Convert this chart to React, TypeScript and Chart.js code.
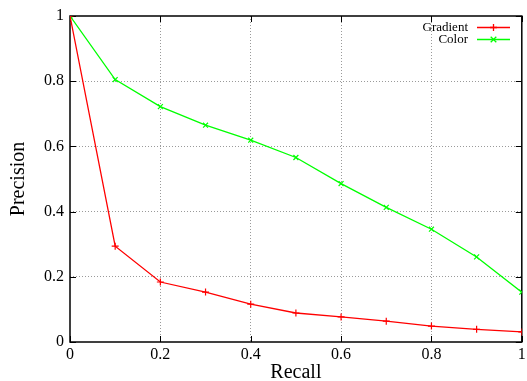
import React, { useEffect, useRef } from 'react';
import { Chart, registerables } from 'chart.js';

Chart.register(...registerables);

const recall = [0, 0.1, 0.2, 0.3, 0.4, 0.5, 0.6, 0.7, 0.8, 0.9, 1];
const gradientPrecision = [1, 0.294, 0.184, 0.153, 0.116, 0.089, 0.077, 0.064, 0.049, 0.039, 0.031];
const colorPrecision = [1, 0.805, 0.722, 0.665, 0.619, 0.566, 0.486, 0.413, 0.346, 0.261, 0.153];
const xTicks = [0, 0.2, 0.4, 0.6, 0.8, 1];
const yTicks = [0, 0.2, 0.4, 0.6, 0.8, 1];
const seriesNames = ['Gradient', 'Color'];
const seriesColors = ['#ff0000', '#00ff00'];
const seriesMarkers = ['cross', 'crossRot'];
const xTitle = 'Recall';
const yTitle = 'Precision';

const SERIF = '"Liberation Serif", "DejaVu Serif", serif';

const fmt = (v: number) => String(Math.round(v * 10) / 10);

const boxPlugin = {
  id: 'gnuBox',
  beforeDatasetsDraw(chart: any) {
    const { ctx, chartArea: a, scales } = chart;
    ctx.save();
    ctx.strokeStyle = '#000';
    ctx.lineWidth = 1;
    const tl = 6;
    ctx.beginPath();
    for (const v of xTicks) {
      const x = Math.round(scales.x.getPixelForValue(v)) + 0.5;
      ctx.moveTo(x, a.bottom);
      ctx.lineTo(x, a.bottom - tl);
      ctx.moveTo(x, a.top);
      ctx.lineTo(x, a.top + tl);
    }
    for (const v of yTicks) {
      const y = Math.round(scales.y.getPixelForValue(v)) + 0.5;
      ctx.moveTo(a.left, y);
      ctx.lineTo(a.left + tl, y);
      ctx.moveTo(a.right, y);
      ctx.lineTo(a.right - tl, y);
    }
    ctx.stroke();
    ctx.lineWidth = 1.5;
    ctx.strokeRect(a.left, a.top, a.right - a.left, a.bottom - a.top);
    ctx.restore();
  },
};

const legendPlugin = {
  id: 'gnuLegend',
  afterDraw(chart: any) {
    const { ctx } = chart;
    ctx.save();
    ctx.font = `13px ${SERIF}`;
    ctx.textAlign = 'right';
    ctx.textBaseline = 'middle';
    const textRight = 468;
    const lx0 = 477;
    const lx1 = 510;
    const rowY = [27.5, 39.5];
    seriesNames.forEach((name, i) => {
      const y = rowY[i];
      ctx.fillStyle = '#000';
      ctx.fillText(name, textRight, y);
      ctx.strokeStyle = seriesColors[i];
      ctx.lineWidth = 1.3;
      ctx.beginPath();
      ctx.moveTo(lx0, y);
      ctx.lineTo(lx1, y);
      ctx.stroke();
      const cx = (lx0 + lx1) / 2;
      const r = 3.5;
      ctx.beginPath();
      if (seriesMarkers[i] === 'cross') {
        ctx.moveTo(cx, y - r);
        ctx.lineTo(cx, y + r);
        ctx.moveTo(cx - r, y);
        ctx.lineTo(cx + r, y);
      } else {
        const d = r * 0.8;
        ctx.moveTo(cx - d, y - d);
        ctx.lineTo(cx + d, y + d);
        ctx.moveTo(cx - d, y + d);
        ctx.lineTo(cx + d, y - d);
      }
      ctx.stroke();
    });
    ctx.restore();
  },
};

export default function App() {
  const canvasRef = useRef<HTMLCanvasElement | null>(null);

  useEffect(() => {
    const canvas = canvasRef.current;
    if (!canvas) return;
    const series = [gradientPrecision, colorPrecision];
    const chart = new Chart(canvas, {
      type: 'line',
      data: {
        datasets: series.map((vals, i) => ({
          label: seriesNames[i],
          data: recall.map((r, j) => ({ x: r, y: vals[j] })),
          borderColor: seriesColors[i],
          backgroundColor: seriesColors[i],
          borderWidth: 1.3,
          pointStyle: seriesMarkers[i] as any,
          pointRadius: 3.5,
          pointBorderWidth: 1.2,
          pointBorderColor: seriesColors[i],
          tension: 0,
          fill: false,
        })),
      },
      options: {
        animation: false,
        responsive: true,
        maintainAspectRatio: false,
        layout: { padding: { top: 16, right: 2, left: 0, bottom: 0 } },
        plugins: {
          legend: { display: false },
          tooltip: { enabled: false },
        },
        scales: {
          x: {
            type: 'linear',
            min: 0,
            max: 1,
            afterBuildTicks: (s: any) => {
              s.ticks = xTicks.map((v) => ({ value: v }));
            },
            afterFit: (s: any) => {
              s.height = 39;
              s.paddingLeft = 0;
              s.paddingRight = 0;
            },
            ticks: {
              color: '#000',
              font: { family: SERIF, size: 16 },
              padding: 3,
              maxRotation: 0,
              autoSkip: false,
              callback: (v: any) => fmt(Number(v)),
            },
            grid: {
              drawTicks: false,
              color: (c: any) =>
                c.tick && (c.tick.value === 0 || c.tick.value === 1) ? 'rgba(0,0,0,0)' : '#9a9a9a',
              lineWidth: 1,
            },
            border: { display: false, dash: [1, 2] },
            title: {
              display: true,
              text: xTitle,
              color: '#000',
              font: { family: SERIF, size: 20, lineHeight: 1 },
              padding: { top: 0, bottom: -2 },
            },
          },
          y: {
            type: 'linear',
            min: 0,
            max: 1,
            afterBuildTicks: (s: any) => {
              s.ticks = yTicks.map((v) => ({ value: v }));
            },
            afterFit: (s: any) => {
              s.width = 70;
              s.paddingTop = 0;
              s.paddingBottom = 0;
            },
            ticks: {
              color: '#000',
              font: { family: SERIF, size: 16 },
              padding: 6,
              autoSkip: false,
              callback: (v: any) => fmt(Number(v)),
            },
            grid: {
              drawTicks: false,
              color: (c: any) =>
                c.tick && (c.tick.value === 0 || c.tick.value === 1) ? 'rgba(0,0,0,0)' : '#9a9a9a',
              lineWidth: 1,
            },
            border: { display: false, dash: [1, 2] },
            title: {
              display: true,
              text: yTitle,
              color: '#000',
              font: { family: SERIF, size: 20, lineHeight: 1 },
              padding: { top: 9, bottom: 0 },
            },
          },
        },
      },
      plugins: [boxPlugin, legendPlugin],
    });
    return () => chart.destroy();
  }, []);

  return (
    <div style={{ position: 'fixed', left: 0, top: 0, width: 527, height: 381, background: '#fff' }}>
      <canvas ref={canvasRef} />
    </div>
  );
}
